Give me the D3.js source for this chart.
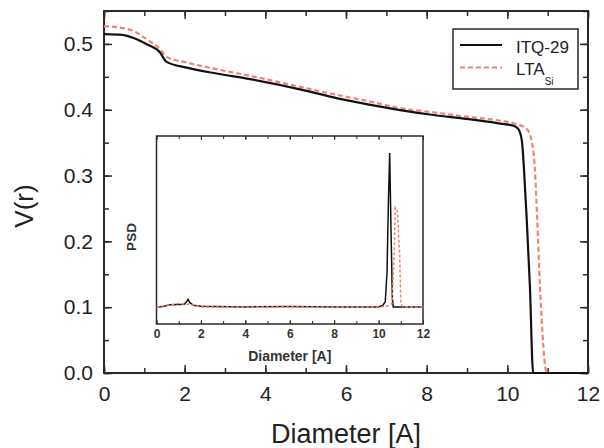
<!DOCTYPE html>
<html>
<head>
<meta charset="utf-8">
<script src="https://cdn.jsdelivr.net/npm/d3@7"></script>
<style>
  html, body { margin: 0; padding: 0; background: #ffffff; }
  svg { display: block; font-family: "Liberation Sans", Arial, sans-serif; }
</style>
</head>
<body>
<svg id="chart" width="604" height="448"></svg>
<script>
// ---------- data ----------
const seriesNames = ["ITQ-29", "LTA"];
// main panel: V(r) vs diameter
const itqX = [0, 0.4, 0.73, 1.06, 1.39, 1.47, 1.55, 2.05, 2.79, 3.62, 4.86, 5.69, 6.51, 7.34, 8.17, 8.99, 9.82, 10.15, 10.27, 10.36, 10.41, 10.48, 10.56, 10.64, 12];
const itqV = [0.515, 0.514, 0.509, 0.4995, 0.487, 0.479, 0.4727, 0.464, 0.455, 0.4465, 0.431, 0.4187, 0.4086, 0.3995, 0.392, 0.386, 0.379, 0.3758, 0.371, 0.353, 0.3126, 0.235, 0.131, 0, 0];
const ltaX = [0, 0.4, 0.73, 1.06, 1.39, 1.55, 2.05, 2.79, 3.62, 4.86, 5.69, 6.51, 7.34, 8.17, 8.99, 9.82, 10.23, 10.48, 10.6, 10.68, 10.74, 10.81, 10.98, 12];
const ltaV = [0.527, 0.5247, 0.5197, 0.507, 0.492, 0.4803, 0.4717, 0.4616, 0.4515, 0.4348, 0.4237, 0.4136, 0.4025, 0.396, 0.3894, 0.3833, 0.3783, 0.371, 0.353, 0.3126, 0.235, 0.131, 0, 0];
// inset: PSD vs diameter
const itqPsdX = [0, 0.3, 0.6, 1.0, 1.25, 1.35, 1.42, 1.5, 1.65, 2.0, 4, 6, 8, 10.0, 10.2, 10.3, 10.38, 10.44, 10.5, 10.56, 10.62, 10.66, 10.75, 12];
const itqPsd = [0, 0.003, 0.012, 0.014, 0.015, 0.03, 0.045, 0.025, 0.01, 0.004, 0, 0.002, 0, 0, 0.01, 0.03, 0.2, 0.6, 0.9, 0.45, 0.05, 0, 0, 0];
const ltaPsdX = [0, 0.5, 1.0, 1.4, 1.7, 2.0, 4, 6, 8, 10.0, 10.4, 10.6, 10.7, 10.75, 10.85, 10.95, 11.0, 11.1, 12];
const ltaPsd = [0, 0.01, 0.02, 0.015, 0.01, 0, 0, 0, 0, 0, 0.005, 0.02, 0.3, 0.58, 0.56, 0.3, 0.02, 0, 0];
// ticks
const mainXTicks = [0, 2, 4, 6, 8, 10, 12];
const mainYTicks = [0.0, 0.1, 0.2, 0.3, 0.4, 0.5];
const insetXTicks = [0, 2, 4, 6, 8, 10, 12];

// ---------- layout ----------
const svg = d3.select("#chart");
const M = { left: 104, right: 588, top: 11, bottom: 373 };
const x = d3.scaleLinear().domain([0, 12]).range([M.left, M.right]);
const y = d3.scaleLinear().domain([0, 0.55]).range([M.bottom, M.top]);

const BLACK = "#111111";
const RED = "#f3826c";
const AXIS = "#2a2a2a";

const minorX = d3.range(0, 12.001, 1);
const minorY = d3.range(0, 0.5501, 0.05);

function styleAxis(g, w) {
  g.select(".domain").remove();
  g.selectAll("line").attr("stroke", AXIS).attr("stroke-width", w);
}

// main minor ticks (all four sides)
const gMain = svg.append("g");
gMain.append("g").attr("transform", `translate(0,${M.bottom})`)
  .call(d3.axisBottom(x).tickValues(minorX).tickSize(-5).tickFormat(""))
  .call(g => styleAxis(g, 1.5));
gMain.append("g").attr("transform", `translate(0,${M.top})`)
  .call(d3.axisTop(x).tickValues(minorX).tickSize(-5).tickFormat(""))
  .call(g => styleAxis(g, 1.5));
gMain.append("g").attr("transform", `translate(${M.left},0)`)
  .call(d3.axisLeft(y).tickValues(minorY).tickSize(-5).tickFormat(""))
  .call(g => styleAxis(g, 1.5));
gMain.append("g").attr("transform", `translate(${M.right},0)`)
  .call(d3.axisRight(y).tickValues(minorY).tickSize(-5).tickFormat(""))
  .call(g => styleAxis(g, 1.5));
// major ticks with labels
gMain.append("g").attr("transform", `translate(0,${M.bottom})`)
  .call(d3.axisBottom(x).tickValues(mainXTicks).tickSize(-8).tickPadding(13).tickFormat(d3.format("d")))
  .call(g => { styleAxis(g, 1.5); g.selectAll("text").attr("font-size", 21).attr("fill", "#222").attr("font-family", "Liberation Sans, Arial, sans-serif"); });
gMain.append("g").attr("transform", `translate(0,${M.top})`)
  .call(d3.axisTop(x).tickValues(mainXTicks).tickSize(-8).tickFormat(""))
  .call(g => styleAxis(g, 1.5));
gMain.append("g").attr("transform", `translate(${M.left},0)`)
  .call(d3.axisLeft(y).tickValues(mainYTicks).tickSize(-8).tickPadding(11).tickFormat(d3.format(".1f")))
  .call(g => { styleAxis(g, 1.5); g.selectAll("text").attr("font-size", 21).attr("fill", "#222").attr("font-family", "Liberation Sans, Arial, sans-serif"); });
gMain.append("g").attr("transform", `translate(${M.right},0)`)
  .call(d3.axisRight(y).tickValues(mainYTicks).tickSize(-8).tickFormat(""))
  .call(g => styleAxis(g, 1.5));

// frame
svg.append("rect").attr("x", M.left).attr("y", M.top)
  .attr("width", M.right - M.left).attr("height", M.bottom - M.top)
  .attr("fill", "none").attr("stroke", AXIS).attr("stroke-width", 2);

// main curves
const line = d3.line().x(d => x(d[0])).y(d => y(d[1])).curve(d3.curveMonotoneX);
svg.append("path").datum(d3.zip(ltaX, ltaV)).attr("d", line)
  .attr("fill", "none").attr("stroke", RED).attr("stroke-width", 2.2).attr("stroke-dasharray", "5,3");
svg.append("path").datum(d3.zip(itqX, itqV)).attr("d", line)
  .attr("fill", "none").attr("stroke", BLACK).attr("stroke-width", 2.2);

// axis titles
svg.append("text").attr("x", 346).attr("y", 443).attr("text-anchor", "middle")
  .attr("font-size", 27).attr("fill", "#222").text("Diameter [A]");
svg.append("text").attr("transform", "translate(33,206) rotate(-90)").attr("text-anchor", "middle")
  .attr("font-size", 26).attr("fill", "#222").text("V(r)");

// legend
const lg = svg.append("g");
lg.append("rect").attr("x", 453).attr("y", 29).attr("width", 125).attr("height", 60)
  .attr("fill", "#fff").attr("stroke", AXIS).attr("stroke-width", 1.5);
lg.append("line").attr("x1", 460).attr("x2", 502).attr("y1", 45).attr("y2", 45)
  .attr("stroke", BLACK).attr("stroke-width", 2.2);
lg.append("line").attr("x1", 460).attr("x2", 502).attr("y1", 67.5).attr("y2", 67.5)
  .attr("stroke", RED).attr("stroke-width", 2.2).attr("stroke-dasharray", "5,3");
lg.append("text").attr("x", 516).attr("y", 52.5).attr("font-size", 17).attr("fill", "#222").text(seriesNames[0]);
const t2 = lg.append("text").attr("x", 516).attr("y", 75).attr("font-size", 17).attr("fill", "#222");
t2.append("tspan").text(seriesNames[1]);
t2.append("tspan").attr("font-size", 10).attr("dy", 10).text("Si");

// ---------- inset ----------
const I = { left: 156.5, right: 423, top: 136, bottom: 324 };
const xi = d3.scaleLinear().domain([0, 12]).range([I.left, I.right]);
const yi = d3.scaleLinear().domain([-0.1, 1.0]).range([I.bottom, I.top]);
svg.append("rect").attr("x", I.left).attr("y", I.top)
  .attr("width", I.right - I.left).attr("height", I.bottom - I.top)
  .attr("fill", "#fff");
const gIn = svg.append("g");
gIn.append("g").attr("transform", `translate(0,${I.bottom})`)
  .call(d3.axisBottom(xi).tickValues(minorX).tickSize(-3).tickFormat(""))
  .call(g => styleAxis(g, 1));
gIn.append("g").attr("transform", `translate(0,${I.top})`)
  .call(d3.axisTop(xi).tickValues(minorX).tickSize(-3).tickFormat(""))
  .call(g => styleAxis(g, 1));
gIn.append("g").attr("transform", `translate(0,${I.bottom})`)
  .call(d3.axisBottom(xi).tickValues(insetXTicks).tickSize(-4).tickPadding(5).tickFormat(d3.format("d")))
  .call(g => { styleAxis(g, 1); g.selectAll("text").attr("font-size", 12).attr("font-weight", "bold").attr("fill", "#333").attr("font-family", "Liberation Sans, Arial, sans-serif"); });
gIn.append("g").attr("transform", `translate(0,${I.top})`)
  .call(d3.axisTop(xi).tickValues(insetXTicks).tickSize(-4).tickFormat(""))
  .call(g => styleAxis(g, 1));
svg.append("rect").attr("x", I.left).attr("y", I.top)
  .attr("width", I.right - I.left).attr("height", I.bottom - I.top)
  .attr("fill", "none").attr("stroke", AXIS).attr("stroke-width", 1.5);

const linei = d3.line().x(d => xi(d[0])).y(d => yi(d[1]));
svg.append("path").datum(d3.zip(itqPsdX, itqPsd)).attr("d", linei)
  .attr("fill", "none").attr("stroke", BLACK).attr("stroke-width", 1.5);
svg.append("path").datum(d3.zip(ltaPsdX, ltaPsd)).attr("d", linei)
  .attr("fill", "none").attr("stroke", RED).attr("stroke-width", 1.5).attr("stroke-dasharray", "3,2");

svg.append("text").attr("x", (I.left + I.right) / 2).attr("y", 361).attr("text-anchor", "middle")
  .attr("font-size", 14).attr("font-weight", "bold").attr("fill", "#333").text("Diameter [A]");
svg.append("text").attr("transform", "translate(136,237) rotate(-90)").attr("text-anchor", "middle")
  .attr("font-size", 13.5).attr("font-weight", "bold").attr("fill", "#333").text("PSD");
</script>
</body>
</html>
